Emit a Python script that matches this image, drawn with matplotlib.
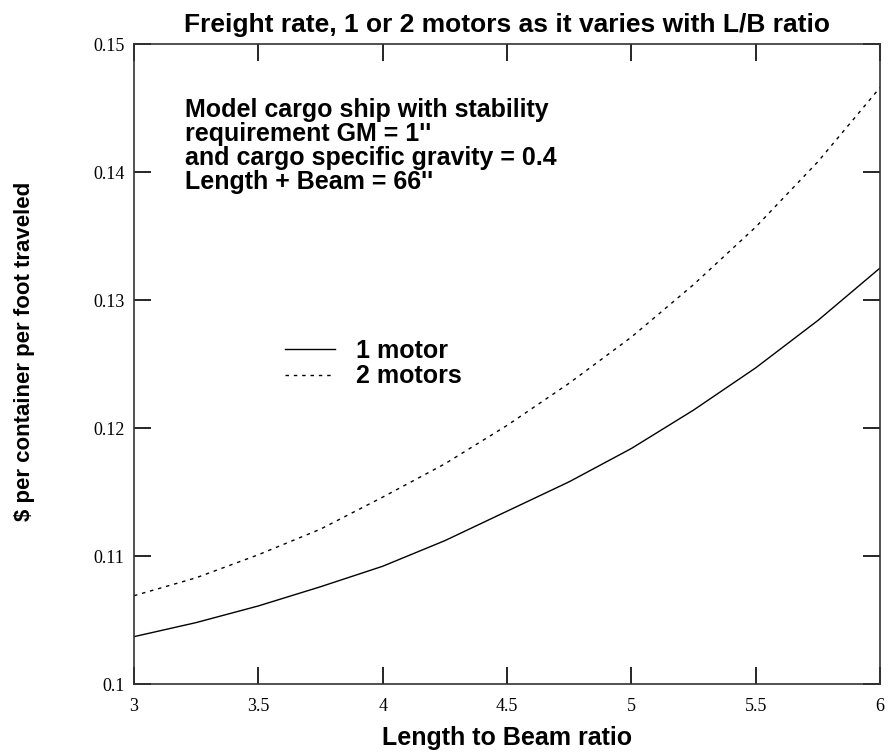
import matplotlib
matplotlib.use("Agg")
import matplotlib.pyplot as plt

lb_ratio = [3.0, 3.25, 3.5, 3.75, 4.0, 4.25, 4.5, 4.75, 5.0, 5.25, 5.5, 5.75, 6.0]
one_motor = [0.1037, 0.1048, 0.1061, 0.1076, 0.1092, 0.1112, 0.1135, 0.1158,
             0.1184, 0.1214, 0.1247, 0.1284, 0.1325]
two_motors = [0.1069, 0.1083, 0.1101, 0.1121, 0.1146, 0.1172, 0.1202, 0.1235,
              0.1271, 0.1312, 0.1357, 0.1408, 0.1466]
x_ticks = [3, 3.5, 4, 4.5, 5, 5.5, 6]
x_tick_labels = ["3", "3.5", "4", "4.5", "5", "5.5", "6"]
y_ticks = [0.10, 0.11, 0.12, 0.13, 0.14, 0.15]
y_tick_labels = ["0.1", "0.11", "0.12", "0.13", "0.14", "0.15"]

note = ("Model cargo ship with stability\n"
        "requirement GM = 1''\n"
        "and cargo specific gravity = 0.4\n"
        "Length + Beam = 66''")

plt.rcParams['font.family'] = ['Liberation Sans', 'DejaVu Sans']

fig = plt.figure(figsize=(8.89, 7.55), dpi=100)
ax = fig.add_axes([0.1507, 0.0940, 0.8392, 0.8477])

ax.plot(lb_ratio, one_motor, color='black', lw=1.0, label="1 motor")
ax.plot(lb_ratio, two_motors, color='black', lw=1.0, linestyle=(0, (2.5, 3.5)),
        label="2 motors")

ax.set_xlim(3, 6)
ax.set_ylim(0.1, 0.15)
ax.set_xticks(x_ticks)
ax.set_xticklabels(x_tick_labels, family='Liberation Serif', fontsize=13)
ax.set_yticks(y_ticks)
ax.set_yticklabels(y_tick_labels, family='Liberation Serif', fontsize=13)
ax.tick_params(direction='in', length=12, width=1.2, top=True, right=True)
ax.tick_params(axis='x', pad=10)
ax.tick_params(axis='y', pad=7)
for s in ax.spines.values():
    s.set_linewidth(1.2)
    s.set_color('#333333')

ax.set_title("Freight rate, 1 or 2 motors as it varies with L/B ratio",
             fontsize=19, fontweight='bold', pad=9)
ax.set_xlabel("Length to Beam ratio", fontsize=18, fontweight='bold',
              labelpad=8)
ax.set_ylabel("$ per container per foot traveled", fontsize=16,
              fontweight='bold')
ax.yaxis.set_label_coords(-0.133, 0.52)

ax.text(0.068, 0.916, note, transform=ax.transAxes, fontsize=18,
        fontweight='bold', va='top', ha='left', linespacing=1.01)

ax.legend(loc='upper left', bbox_to_anchor=(0.2024, 0.539), frameon=False,
          prop={'size': 18, 'weight': 'bold'}, handlelength=2.0,
          handletextpad=0.84, labelspacing=0.05, borderpad=0,
          borderaxespad=0)

fig.savefig("out.png", dpi=100)
